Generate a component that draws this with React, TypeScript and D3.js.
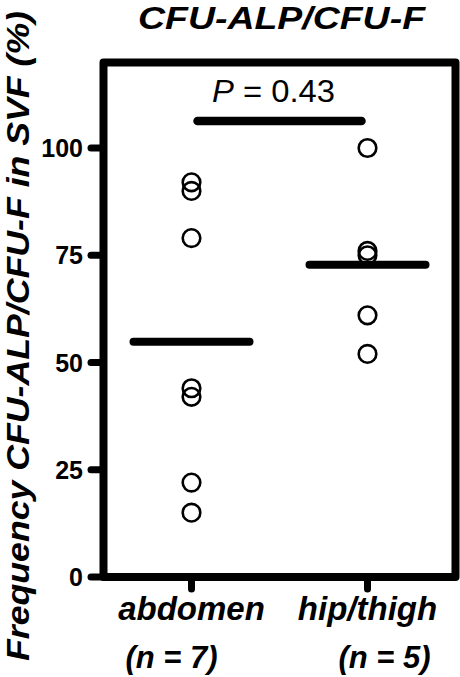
import React from "react";
import * as d3 from "d3";

const categories = ["abdomen", "hip/thigh"];
const nLabels = ["(n = 7)", "(n = 5)"];
const abdomenValues = [92, 90, 79, 44, 42, 22, 15];
const hipThighValues = [100, 76, 75, 61, 52];
const seriesValues = [abdomenValues, hipThighValues];
const yTicks = [0, 25, 50, 75, 100];
const pText = "0.43";
const sigLevel = 106.3;

const W = 460;
const H = 677;
const FONT = "'Liberation Sans', Arial, Helvetica, sans-serif";

export default function App() {
  const frameL = 103.5;
  const frameR = 455.5;
  const frameT = 62.5;
  const y = d3.scaleLinear().domain([0, 100]).range([577, 148]);
  const x = d3.scalePoint<string>().domain(categories).range([frameL, frameR]).padding(0.5);
  const frameB = y(0);
  const means = seriesValues.map((v) => d3.mean(v) as number);
  const halfMean = 58;

  const x0 = x(categories[0]) as number;
  const x1 = x(categories[1]) as number;

  return (
    <svg
      width={W}
      height={H}
      style={{ position: "absolute", left: 0, top: 0, background: "#fff" }}
      fontFamily={FONT}
    >
      <rect x={0} y={0} width={W} height={H} fill="#fff" />
      {/* Title */}
      <text
        x={281.5}
        y={29}
        textAnchor="middle"
        fontSize={32}
        fontWeight="bold"
        fontStyle="italic"
        textLength={287}
        lengthAdjust="spacingAndGlyphs"
      >
        CFU-ALP/CFU-F
      </text>
      {/* Y label */}
      <text
        transform={`translate(29,336) rotate(-90)`}
        textAnchor="middle"
        fontSize={31}
        fontWeight="bold"
        fontStyle="italic"
        textLength={650}
        lengthAdjust="spacingAndGlyphs"
      >
        Frequency CFU-ALP/CFU-F in SVF (%)
      </text>
      {/* Frame */}
      <path
        d={`M${frameL},${frameB} L${frameL},${frameT} L${frameR},${frameT} L${frameR},${frameB} Z`}
        fill="none"
        stroke="#000"
        strokeWidth={8}
        strokeLinejoin="round"
      />
      {/* Y ticks */}
      {yTicks.map((t) => (
        <g key={t}>
          <line x1={91} x2={frameL} y1={y(t)} y2={y(t)} stroke="#000" strokeWidth={7} strokeLinecap="round" />
          <text
            x={83}
            y={y(t)}
            dy="0.36em"
            textAnchor="end"
            fontSize={25}
            fontWeight="bold"
          >
            {t}
          </text>
        </g>
      ))}
      {/* X ticks and labels */}
      {categories.map((c) => (
        <g key={c}>
          <line
            x1={x(c)}
            x2={x(c)}
            y1={frameB}
            y2={frameB + 12}
            stroke="#000"
            strokeWidth={7}
            strokeLinecap="round"
          />
          <text
            x={x(c)}
            y={620}
            textAnchor="middle"
            fontSize={33}
            fontWeight="bold"
            fontStyle="italic"
          >
            {c}
          </text>
        </g>
      ))}
      <text x={171.5} y={668} textAnchor="middle" fontSize={31} fontWeight="bold" fontStyle="italic">
        {nLabels[0]}
      </text>
      <text x={384.5} y={668} textAnchor="middle" fontSize={31} fontWeight="bold" fontStyle="italic">
        {nLabels[1]}
      </text>
      {/* Points */}
      {seriesValues.map((vals, i) =>
        vals.map((v, j) => (
          <circle
            key={`${i}-${j}`}
            cx={x(categories[i])}
            cy={y(v)}
            r={8.8}
            fill="none"
            stroke="#000"
            strokeWidth={2.6}
          />
        ))
      )}
      {/* Mean lines */}
      {means.map((m, i) => (
        <line
          key={i}
          x1={(x(categories[i]) as number) - halfMean}
          x2={(x(categories[i]) as number) + halfMean}
          y1={y(m)}
          y2={y(m)}
          stroke="#000"
          strokeWidth={8}
          strokeLinecap="round"
        />
      ))}
      {/* Significance bar */}
      <line
        x1={x0 + 6}
        x2={x1 - 6}
        y1={y(sigLevel)}
        y2={y(sigLevel)}
        stroke="#000"
        strokeWidth={8.5}
        strokeLinecap="round"
      />
      <text x={273.5} y={102} textAnchor="middle" fontSize={32} textLength={123} lengthAdjust="spacingAndGlyphs">
        <tspan fontStyle="italic">P</tspan>
        <tspan> = {pText}</tspan>
      </text>
    </svg>
  );
}
